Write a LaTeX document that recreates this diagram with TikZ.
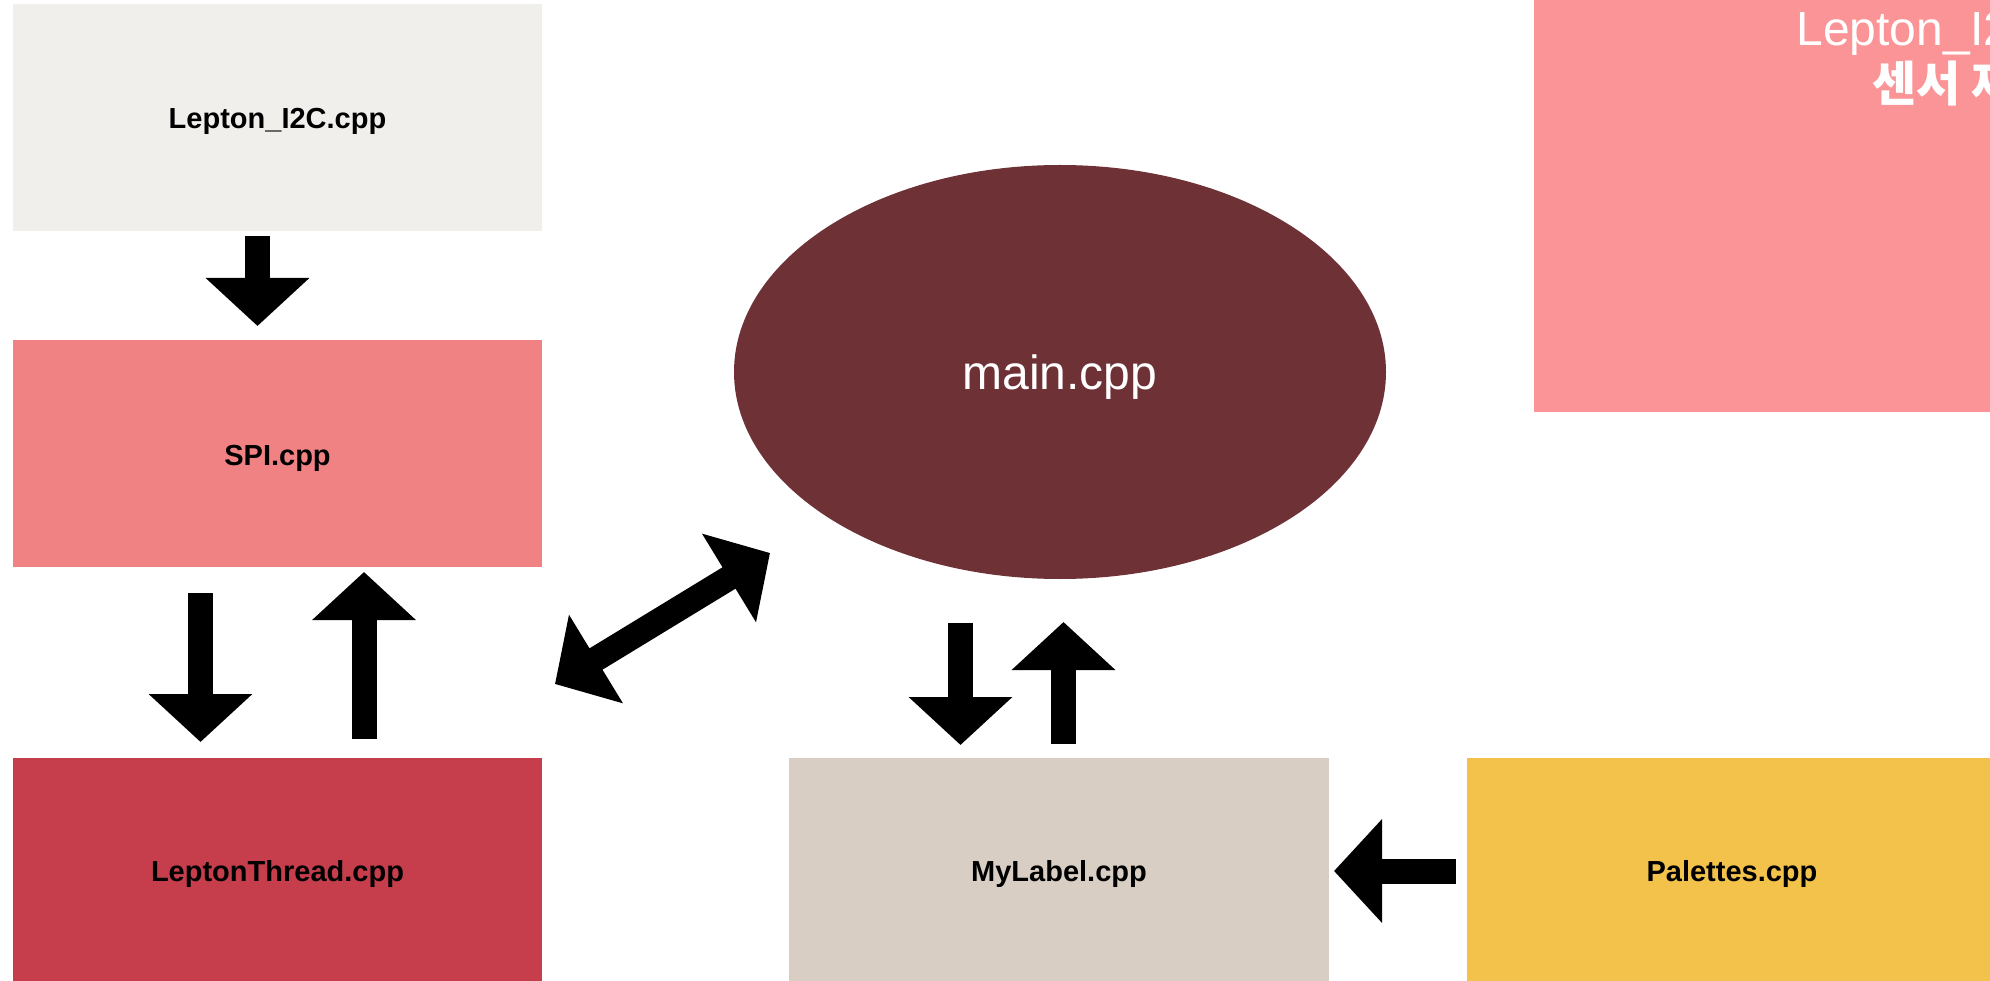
\documentclass[tikz,border=0pt]{standalone}
\usepackage{fontspec}
\setmainfont{Liberation Sans}
\newfontfamily\krfont{Noto Sans CJK KR}
\usetikzlibrary{shapes.geometric,arrows.meta}
\definecolor{cI2C}{HTML}{F1EFEC}
\definecolor{cSPI}{HTML}{F08284}
\definecolor{cThread}{HTML}{C63E4C}
\definecolor{cMain}{HTML}{6E3236}
\definecolor{cMyLabel}{HTML}{D8CEC3}
\definecolor{cPal}{HTML}{F3C24B}
\definecolor{cPink}{HTML}{FB9496}
\begin{document}
\begin{tikzpicture}[x=1pt,y=-1pt,
  box/.style={rectangle, inner sep=0pt, minimum width=529pt, minimum height=227pt,
    text height=26pt, text depth=3pt,
    font=\fontsize{29}{35}\selectfont\bfseries, text=black},
  barrow/.style={draw=black, line width=25pt, -{Triangle[width=101pt,length=48pt]}},
  dbarrow/.style={draw=black, line width=25pt, {Triangle[width=101pt,length=48pt]}-{Triangle[width=101pt,length=48pt]}}]
\useasboundingbox (0,0) rectangle (1990,981);
\clip (0,0) rectangle (1990,981);
% top-right note
\node[rectangle, inner sep=0pt, fill=cPink, minimum width=866pt, minimum height=412pt, anchor=north west] (pink) at (1534,0) {};
\node[anchor=base, inner sep=0pt, text=white, font=\fontsize{48}{54}\selectfont] (pinkt1) at (1966,46) {Lepton\_I2C.cpp};
\node[anchor=base, inner sep=0pt, text=white, font=\krfont\bfseries\fontsize{48}{54}\selectfont] (pinkt2) at (1966,102) {센서 제어};
% boxes
\node[box, fill=cI2C] (i2c) at (277.5,117.5) {Lepton\_I2C.cpp};
\node[box, fill=cSPI] (spi) at (277.5,453.5) {SPI.cpp};
\node[box, fill=cThread, minimum height=224pt] (thread) at (277.5,870) {LeptonThread.cpp};
\node[ellipse, fill=cMain, minimum width=652pt, minimum height=414pt, inner sep=0pt,
  text height=40pt, text depth=4pt,
  text=white, font=\fontsize{48}{54}\selectfont] (main) at (1060,372) {main.cpp};
\node[box, fill=cMyLabel, minimum width=540pt, minimum height=224pt] (mylabel) at (1059,870) {MyLabel.cpp};
\node[box, fill=cPal, minimum width=530pt, minimum height=224pt] (pal) at (1732,870) {Palettes.cpp};
% arrow end points
\coordinate (a1) at (257.5,236);  \coordinate (a2) at (257.5,326);
\coordinate (b1) at (200.5,593);  \coordinate (b2) at (200.5,742);
\coordinate (c1) at (364,739);    \coordinate (c2) at (364,572);
\coordinate (d1) at (555,684);    \coordinate (d2) at (770,553);
\coordinate (e1) at (960.5,623);  \coordinate (e2) at (960.5,745);
\coordinate (f1) at (1063.5,744); \coordinate (f2) at (1063.5,622);
\coordinate (g1) at (1456,871);   \coordinate (g2) at (1334,871);
\draw[barrow] (a1) -- (a2);
\draw[barrow] (b1) -- (b2);
\draw[barrow] (c1) -- (c2);
\draw[dbarrow] (d1) -- (d2);
\draw[barrow] (e1) -- (e2);
\draw[barrow] (f1) -- (f2);
\draw[barrow] (g1) -- (g2);
\end{tikzpicture}
\end{document}
